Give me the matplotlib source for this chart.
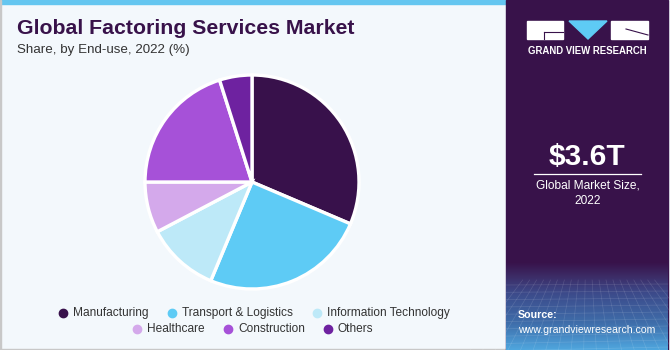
import numpy as np
import matplotlib.pyplot as plt
from matplotlib.patches import Rectangle, Polygon

plt.rcParams['font.family'] = ['Liberation Sans', 'DejaVu Sans']

# end-use share, 2022 (%)
segments = ['Manufacturing', 'Transport & Logistics', 'Information Technology',
            'Healthcare', 'Construction', 'Others']
shares = [31.4, 24.9, 11.0, 7.7, 20.1, 4.9]
colors = ['#38114b', '#5ecbf5', '#bde9f8', '#d4a9eb', '#a651d8', '#6e22a0']

market_size = '$3.6T'
W, H = 670, 350

fig = plt.figure(figsize=(W / 100, H / 100), dpi=100)
fig.patch.set_facecolor('#f3f8fc')


def px(x, y, w, h):
    # pixel box (top-left origin) -> figure fraction rect
    return [x / W, 1 - (y + h) / H, w / W, h / H]


bg = fig.add_axes([0, 0, 1, 1])
bg.set_xlim(0, W)
bg.set_ylim(H, 0)
bg.axis('off')
bg.add_patch(Rectangle((0, 0), 506, 4, color='#64c6f0'))
bg.add_patch(Rectangle((0, 0), 1.2, H, color='#c8c8c8'))
bg.add_patch(Rectangle((0, H - 1.5), 506, 1.5, color='#c8c8c8'))

# right panel with the bluish bottom
bg.add_patch(Rectangle((506, 0), 162, H, color='#38124a'))
stops = [(0.0, '#38124a'), (0.18, '#3d2f6a'), (0.35, '#3c4a8a'),
         (0.7, '#3f6eab'), (1.0, '#4fa6de')]
n = 120
img = np.zeros((n, 1, 3))
pos = [s[0] for s in stops]
rgb = np.array([[int(c[i:i + 2], 16) / 255 for i in (1, 3, 5)] for _, c in stops])
t = np.linspace(0, 1, n)
for ch in range(3):
    img[:, 0, ch] = np.interp(t, pos, rgb[:, ch])
bg.imshow(img, extent=(506, 668, 350, 262), aspect='auto', zorder=1)
for k, yy in enumerate(np.linspace(285, 348, 10)):
    bg.plot([506, 668], [yy + k * 0.3, yy - 1], color='white', alpha=0.13, lw=0.5, zorder=2)
for xx in np.linspace(470, 710, 20):
    bg.plot([587 + (xx - 587) * 0.55, xx], [280, 350], color='white', alpha=0.13, lw=0.5, zorder=2)
bg.set_xlim(0, W)
bg.set_ylim(H, 0)

# logo
bg.add_patch(Rectangle((527, 21), 36, 18, color='white', zorder=3))
bg.add_patch(Polygon([(569, 21), (607, 21), (588, 39)], color='#5ecbf5', zorder=3))
bg.add_patch(Rectangle((611, 21), 37, 18, color='white', zorder=3))
bg.plot([544, 563], [31.5, 31.5], color='#38124a', lw=0.8, zorder=4)
bg.plot([544, 544], [31.5, 39], color='#38124a', lw=0.8, zorder=4)
bg.plot([626, 648], [29, 35], color='#38124a', lw=0.8, zorder=4)
bg.text(587.5, 51, 'GRAND VIEW RESEARCH', color='white', fontsize=6.9, fontweight='bold',
        ha='center', va='center', zorder=4)

bg.text(587.5, 157, market_size, color='white', fontsize=21.5, fontweight='bold',
        ha='center', va='center', zorder=4)
bg.plot([534, 641], [173.5, 173.5], color='white', lw=0.9, zorder=4)
bg.text(587.5, 185, 'Global Market Size,', color='white', fontsize=8.6,
        ha='center', va='center', zorder=4)
bg.text(587.5, 200.5, '2022', color='white', fontsize=8.6, ha='center', va='center', zorder=4)
bg.text(518, 315, 'Source:', color='white', fontsize=7.7, fontweight='bold',
        ha='left', va='center', zorder=4)
bg.text(518, 330, 'www.grandviewresearch.com', color='white', fontsize=7.6,
        ha='left', va='center', zorder=4)

# titles
bg.text(17, 29, 'Global Factoring Services Market', color='#38124a', fontsize=15.3,
        fontweight='bold', ha='left', va='center')
bg.text(17, 49.5, 'Share, by End-use, 2022 (%)', color='#333333', fontsize=9.6,
        ha='left', va='center')

# pie
ax = fig.add_axes(px(252 - 107, 182 - 107, 214, 214))
ax.pie(shares, colors=colors, startangle=90, counterclock=False,
       wedgeprops=dict(edgecolor='white', linewidth=2.4))
ax.set_xlim(-1, 1)
ax.set_ylim(-1, 1)
ax.set_aspect('equal')

# legend, two centred rows
rows = [(0, [63, 172, 317], 313), (3, [137, 228, 328], 329)]
for start, xs, yy in rows:
    for k, xx in enumerate(xs):
        i = start + k
        bg.plot(xx, yy, 'o', color=colors[i], markersize=6)
        bg.text(xx + 10, yy, segments[i], color='#333333', fontsize=8.6,
                ha='left', va='center')

fig.savefig('out.png', dpi=100, facecolor=fig.get_facecolor())
